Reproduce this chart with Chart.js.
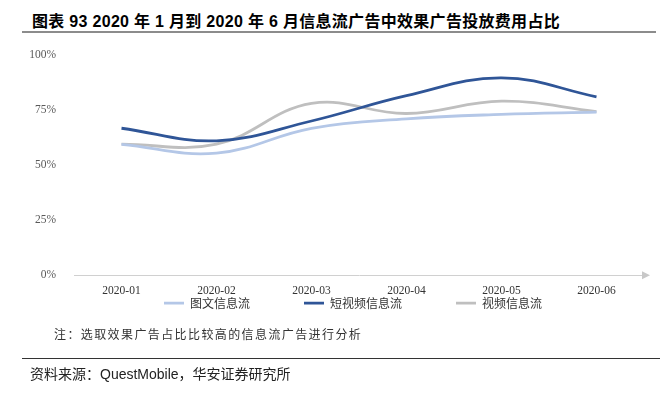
<!DOCTYPE html>
<html>
<head>
<meta charset="utf-8">
<script src="https://cdn.jsdelivr.net/npm/chart.js@4/dist/chart.umd.min.js"></script>
<style>
    body { margin: 0; width: 666px; height: 396px; background: #fff; position: relative; overflow: hidden; }
    .title { position: absolute; left: 32px; top: 8px; font: bold 16px "Liberation Sans", "Noto Sans CJK SC", sans-serif; letter-spacing: 0.3px; color: #000; white-space: nowrap; }
    .title-rule { position: absolute; left: 22px; top: 31px; width: 634px; height: 2px; background: #8c8c8c; }
    .chart-box { position: absolute; left: 0; top: 38px; width: 666px; height: 289px; }
    .note { position: absolute; left: 54px; top: 325px; font: 12px "Noto Sans CJK SC", serif; letter-spacing: 1.4px; color: #333; white-space: nowrap; }
    .src-rule { position: absolute; left: 22px; top: 358px; width: 638px; height: 1px; background: #333; }
    .source { position: absolute; left: 30px; top: 363px; font: 14px "Liberation Sans", "Noto Sans CJK SC", sans-serif; color: #222; white-space: nowrap; }
</style>
</head>
<body>
<div class="title">图表 93 2020 年 1 月到 2020 年 6 月信息流广告中效果广告投放费用占比</div>
<div class="title-rule"></div>
<div class="chart-box"><canvas id="shareChart"></canvas></div>
<div class="note">注：选取效果广告占比比较高的信息流广告进行分析</div>
<div class="src-rule"></div>
<div class="source">资料来源：QuestMobile，华安证券研究所</div>

<script>
// months and shares (%)
const months = ['2020-01', '2020-02', '2020-03', '2020-04', '2020-05', '2020-06'];
const imageText = [59.4, 55.4, 66.7, 71.0, 73.0, 74.0];   // 图文信息流
const shortVideo = [66.7, 61.0, 70.0, 81.5, 89.6, 81.0];  // 短视频信息流
const video = [59.5, 59.5, 78.0, 73.4, 79.0, 74.3];       // 视频信息流
const yTicks = [0, 25, 50, 75, 100];

const legendGap = 54;
const legendCenter = 353;

// small arrow at the end of the x axis
const axisArrow = {
    id: 'axisArrow',
    afterDraw(chart) {
        const ctx = chart.ctx;
        const a = chart.chartArea;
        ctx.save();
        ctx.fillStyle = '#c8c8c8';
        ctx.beginPath();
        ctx.moveTo(a.right + 6, a.bottom);
        ctx.lineTo(a.right - 2, a.bottom - 4);
        ctx.lineTo(a.right - 2, a.bottom + 4);
        ctx.closePath();
        ctx.fill();
        ctx.restore();
    }
};

// wide gaps between legend items, but keep the legend box itself short
const legendFit = {
    id: 'legendFit',
    beforeInit(chart) {
        const origFit = chart.legend.fit;
        chart.legend.fit = function () {
            origFit.call(this);
            this.height = 20;
        };
    },
    afterLayout(chart) {
        const lg = chart.legend;
        // items are drawn at top + padding, so pull the box up
        lg.top = chart.chartArea.bottom + 22 - legendGap;
        lg.left = 2 * legendCenter - lg.right;
    }
};

function lineSet(label, data, color) {
    return {
        label: label,
        data: data,
        borderColor: color,
        backgroundColor: color,
        borderWidth: 2.8,
        tension: 0.4,
        pointRadius: 0,
        fill: false
    };
}

const canvas = document.getElementById('shareChart');
new Chart(canvas.getContext('2d'), {
    type: 'line',
    data: {
        labels: months,
        datasets: [
            lineSet('图文信息流', imageText, '#b4c7e7'),
            lineSet('短视频信息流', shortVideo, '#2f5597'),
            lineSet('视频信息流', video, '#bfbfbf')
        ]
    },
    options: {
        responsive: true,
        maintainAspectRatio: false,
        animation: false,
        layout: { padding: { top: 15, right: 22, left: 0, bottom: 0 } },
        plugins: {
            tooltip: { enabled: false },
            legend: {
                position: 'bottom',
                labels: {
                    usePointStyle: true,
                    pointStyle: 'line',
                    pointStyleWidth: 20,
                    boxWidth: 20,
                    padding: legendGap,
                    color: '#333',
                    font: { family: '"Noto Sans CJK SC", serif', size: 12 }
                }
            }
        },
        scales: {
            x: {
                offset: true,
                grid: { display: false, drawTicks: false },
                border: { display: true, color: '#d0d0d0', width: 1 },
                ticks: {
                    color: '#333',
                    padding: 9,
                    maxRotation: 0,
                    font: { family: '"Liberation Serif", serif', size: 11.5 }
                }
            },
            y: {
                min: 0,
                max: 100,
                afterFit(scale) { scale.width = 74; },
                afterBuildTicks(scale) { scale.ticks = yTicks.map(v => ({ value: v })); },
                grid: { display: false },
                border: { display: false },
                ticks: {
                    color: '#595959',
                    padding: 10,
                    font: { family: '"Liberation Serif", serif', size: 11.5 },
                    callback: v => v + '%'
                }
            }
        }
    },
    plugins: [axisArrow, legendFit]
});
</script>
</body>
</html>
